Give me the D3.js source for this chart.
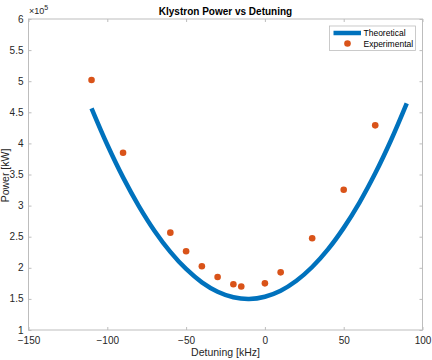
<!DOCTYPE html>
<html><head><meta charset="utf-8">
<script src="https://cdn.jsdelivr.net/npm/d3@7"></script>
<style>body{margin:0;background:#fff;}svg{display:block;font-family:"Liberation Sans",Arial,sans-serif;}</style>
</head><body><svg id="c" width="432" height="360"></svg>
<script>
const theoryX = [-110,-100,-90,-80,-70,-60,-50,-40,-30,-20,-10,0,10,20,30,40,50,60,70,80,90];
const theoryY = [4.564,3.978,3.454,2.993,2.593,2.256,1.981,1.767,1.616,1.527,1.500,1.535,1.632,1.792,2.013,2.296,2.642,3.049,3.519,4.051,4.644];
const expX = [-110,-90,-60,-50,-40,-30,-20,-15,0,10,30,50,70];
const expY = [5.02,3.85,2.565,2.265,2.024,1.852,1.735,1.70,1.75,1.927,2.474,3.256,4.29];
const xTicks = [-150,-100,-50,0,50,100];
const yTicks = [1,1.5,2,2.5,3,3.5,4,4.5,5,5.5,6];

const svg = d3.select("#c");
const L=28.5,R=422.5,T=19,B=330;
const x = d3.scaleLinear().domain([-150,100]).range([L,R]);
const y = d3.scaleLinear().domain([1,6]).range([B,T]);
const axC="#bdbdbd", txtC="#262626";

svg.append("rect").attr("x",L).attr("y",T).attr("width",R-L).attr("height",B-T).attr("fill","#fff").attr("stroke",axC).attr("stroke-width",1);

const fmt = d=>d3.format("")(d);
const gx = svg.append("g").attr("transform",`translate(0,${B})`).call(d3.axisBottom(x).tickValues(xTicks).tickSize(-3).tickPadding(7).tickFormat(fmt));
const gxt = svg.append("g").attr("transform",`translate(0,${T})`).call(d3.axisTop(x).tickValues(xTicks).tickSize(-3).tickFormat(""));
const gy = svg.append("g").attr("transform",`translate(${L},0)`).call(d3.axisLeft(y).tickValues(yTicks).tickSize(-3).tickPadding(5).tickFormat(fmt));
const gyr = svg.append("g").attr("transform",`translate(${R},0)`).call(d3.axisRight(y).tickValues(yTicks).tickSize(-3).tickFormat(""));
[gx,gxt,gy,gyr].forEach(g=>{
  g.select(".domain").remove();
  g.selectAll("line").attr("stroke",axC);
  g.selectAll("text").attr("fill",txtC).style("font-size","10px").style("font-family","'Liberation Sans',Arial,sans-serif");
});
gy.selectAll("text").attr("dy","0.3em");

const line = d3.line().x((d,i)=>x(theoryX[i])).y(d=>y(d)).curve(d3.curveCatmullRom);
svg.append("path").datum(theoryY).attr("d",line).attr("fill","none").attr("stroke","#0072BD").attr("stroke-width",4.5);

svg.selectAll("circle.e").data(expY).enter().append("circle").attr("class","e")
  .attr("cx",(d,i)=>x(expX[i])).attr("cy",d=>y(d)).attr("r",3.3).attr("fill","#D95319");

svg.append("text").attr("x",225.5).attr("y",15).attr("text-anchor","middle").attr("fill","#000")
  .style("font-size","10px").style("font-weight","bold").text("Klystron Power vs Detuning");
const ex = svg.append("text").attr("x",29).attr("y",14).attr("fill",txtC).style("font-size","9px");
ex.append("tspan").text("×10");
ex.append("tspan").attr("dy",-4).style("font-size","7px").text("5");
svg.append("text").attr("x",225.5).attr("y",356).attr("text-anchor","middle").attr("fill",txtC).style("font-size","10.5px").text("Detuning [kHz]");
svg.append("text").attr("transform","translate(9,175.5) rotate(-90)").attr("text-anchor","middle").attr("fill",txtC).style("font-size","10.5px").text("Power [kW]");

const lg = svg.append("g");
lg.append("rect").attr("x",329.5).attr("y",26).attr("width",86).attr("height",24.5).attr("fill","#fff").attr("stroke",axC).attr("stroke-width",0.8);
lg.append("line").attr("x1",333.5).attr("x2",361).attr("y1",33).attr("y2",33).attr("stroke","#0072BD").attr("stroke-width",4.5);
lg.append("circle").attr("cx",347.5).attr("cy",43.5).attr("r",3.3).attr("fill","#D95319");
lg.append("text").attr("x",363.5).attr("y",36.3).attr("fill","#000").style("font-size","8.5px").text("Theoretical");
lg.append("text").attr("x",363.5).attr("y",47).attr("fill","#000").style("font-size","8.5px").text("Experimental");
</script></body></html>
